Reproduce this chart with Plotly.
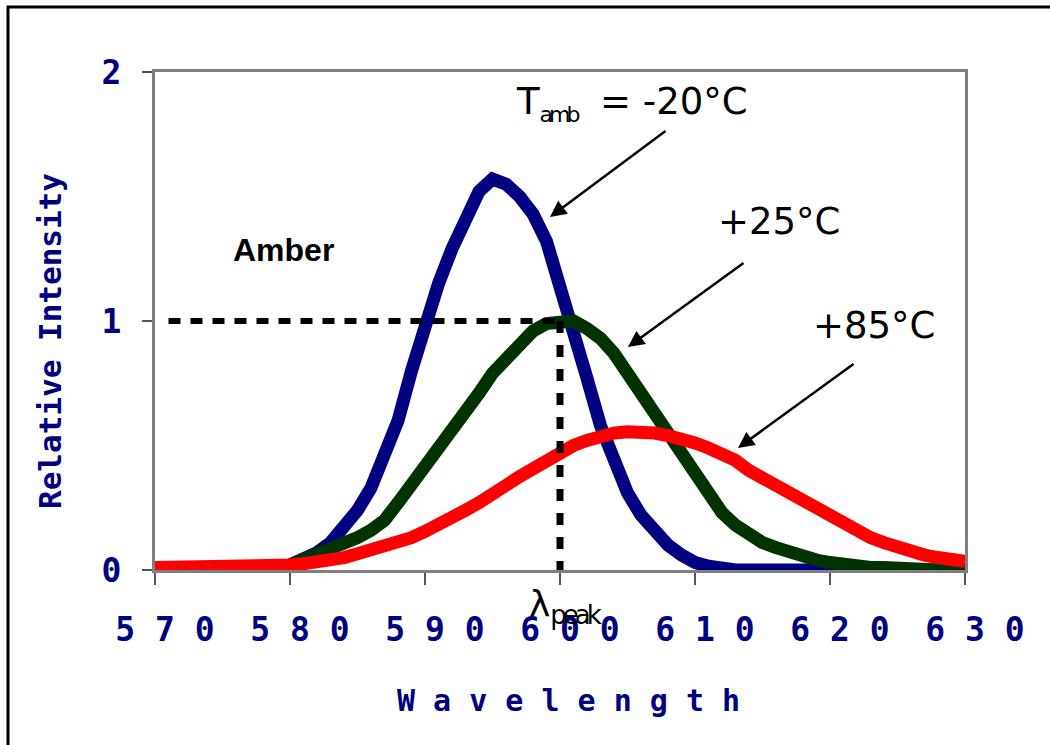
import plotly.graph_objects as go

# ---- data ----
wavelength = list(range(570, 631))
rel_m20 = [0.0, 0.0, 0.0, 0.0, 0.0, 0.0, 0.0, 0.0, 0.005, 0.01,
           0.02, 0.04, 0.07, 0.11, 0.17, 0.24, 0.33, 0.45, 0.60, 0.80,
           0.99, 1.15, 1.29, 1.42, 1.52, 1.57, 1.55, 1.50, 1.43, 1.32,
           1.15, 0.96, 0.77, 0.58, 0.43, 0.31, 0.22, 0.15, 0.10, 0.06,
           0.03, 0.015, 0.005, 0.0, 0.0, 0.0, 0.0, 0.0, 0.0, 0.0,
           0.0, 0.0, 0.0, 0.0, 0.0, 0.0, 0.0, 0.0, 0.0, 0.0, 0.0]
rel_p25 = [0.0, 0.0, 0.0, 0.0, 0.0, 0.0, 0.0, 0.0, 0.005, 0.01,
           0.02, 0.04, 0.06, 0.08, 0.10, 0.13, 0.16, 0.20, 0.27, 0.34,
           0.42, 0.49, 0.56, 0.64, 0.71, 0.79, 0.85, 0.91, 0.96, 0.99,
           1.0, 1.0, 0.97, 0.93, 0.87, 0.79, 0.71, 0.62, 0.54, 0.46,
           0.38, 0.30, 0.23, 0.18, 0.14, 0.11, 0.09, 0.07, 0.05, 0.04,
           0.03, 0.02, 0.015, 0.01, 0.01, 0.005, 0.0, 0.0, 0.0, 0.0, 0.0]
rel_p85 = [0.01, 0.01, 0.01, 0.01, 0.01, 0.01, 0.015, 0.02, 0.02, 0.02,
           0.02, 0.025, 0.03, 0.04, 0.05, 0.065, 0.08, 0.095, 0.11, 0.13,
           0.155, 0.18, 0.21, 0.24, 0.27, 0.30, 0.34, 0.375, 0.41, 0.44,
           0.47, 0.50, 0.52, 0.54, 0.55, 0.555, 0.555, 0.55, 0.54, 0.53,
           0.51, 0.49, 0.47, 0.44, 0.40, 0.37, 0.34, 0.31, 0.28, 0.25,
           0.21, 0.18, 0.155, 0.13, 0.11, 0.09, 0.07, 0.06, 0.05, 0.04, 0.035]

peak_wl = 600
peak_rel = 1.0
ref_start_wl = 571

x_tickvals = [570, 580, 590, 600, 610, 620, 630]
x_ticktext = ["5 7 0", "5 8 0", "5 9 0", "6 0 0", "6 1 0", "6 2 0", "6 3 0"]
y_tickvals = [0, 1, 2]
y_ticktext = ["0", "1", "2"]

NAVY = "#000080"
MONO = "DejaVu Sans Mono"
W, H = 1050, 745
L, R, T, B = 155, 85, 72, 175
PW, PH = W - L - R, H - T - B


def px(xp):
    return (xp - L) / PW


def py(yp):
    return (H - B - yp) / PH


fig = go.Figure()
for ys, col in [(rel_m20, "#000080"), (rel_p25, "#003300"), (rel_p85, "#ff0000")]:
    fig.add_trace(go.Scatter(x=wavelength, y=ys, mode="lines",
                             line=dict(color=col, width=13), showlegend=False))

# reference dashed lines
fig.add_trace(go.Scatter(x=[ref_start_wl, peak_wl], y=[peak_rel, peak_rel], mode="lines",
                         line=dict(color="black", width=6, dash="12px,10px"), showlegend=False))
fig.add_trace(go.Scatter(x=[peak_wl, peak_wl], y=[peak_rel, 0], mode="lines",
                         line=dict(color="black", width=7, dash="12px,12px"), showlegend=False))

nb = "\u00a0"
fig.update_xaxes(range=[570, 630], tickvals=x_tickvals,
                 ticktext=[nb + t.replace(" ", nb) for t in x_ticktext],
                 tickfont=dict(family=MONO, size=33, color=NAVY, weight="bold"),
                 showgrid=False, zeroline=False, showline=True, linecolor="#808080",
                 linewidth=3, mirror=True, ticks="outside", ticklen=12, tickwidth=2,
                 tickcolor="#555555", ticklabelstandoff=16)
fig.update_yaxes(range=[0, 2], tickvals=y_tickvals, ticktext=y_ticktext,
                 tickfont=dict(family=MONO, size=33, color=NAVY, weight="bold"),
                 showgrid=False, zeroline=False, showline=True, linecolor="#808080",
                 linewidth=3, mirror=True, ticks="outside", ticklen=10, tickwidth=2,
                 tickcolor="#555555", ticklabelstandoff=14)

ann = []
TXT = dict(family="DejaVu Sans", size=37, color="black")
SUB = "<span style='font-size:22px;letter-spacing:-4px'>{}</span>"
ann.append(dict(xref="paper", yref="paper", x=px(514), y=py(103), xanchor="left", yanchor="middle",
                text="T<sub>" + SUB.format("amb") + "</sub>" + nb * 2 + "= -20°C",
                showarrow=False, font=TXT))
ann.append(dict(xref="paper", yref="paper", x=px(779), y=py(222), xanchor="center", yanchor="middle",
                text="+25°C", showarrow=False, font=TXT))
ann.append(dict(xref="paper", yref="paper", x=px(874), y=py(325), xanchor="center", yanchor="middle",
                text="+85°C", showarrow=False, font=TXT))
ann.append(dict(xref="paper", yref="paper", x=px(283), y=py(250), xanchor="center", yanchor="middle",
                text="Amber", showarrow=False,
                font=dict(family="Liberation Sans", size=32, color="black", weight="bold")))
ann.append(dict(xref="paper", yref="paper", x=px(527), y=py(606), xanchor="left", yanchor="middle",
                text="λ<sub>" + "<span style='font-size:26px;letter-spacing:-4px'>peak</span>" + "</sub>",
                showarrow=False, font=dict(family="DejaVu Sans", size=36, color="black")))
# arrows (tail -> head, in pixels)
for (tx, ty, hx, hy) in [(667, 130, 550, 217), (745, 262, 628, 347), (855, 363, 738, 448)]:
    ann.append(dict(xref="paper", yref="paper", x=px(hx), y=py(hy), axref="pixel", ayref="pixel",
                    ax=tx - hx, ay=ty - hy, text="", showarrow=True, arrowhead=2, arrowsize=1.3,
                    arrowwidth=2.5, arrowcolor="black"))
# axis titles
ann.append(dict(xref="paper", yref="paper", x=px(50), y=py(341), xanchor="center", yanchor="middle",
                textangle=-90, text="Relative Intensity",
                showarrow=False, font=dict(family=MONO, size=31, color=NAVY, weight="bold")))
ann.append(dict(xref="paper", yref="paper", x=px(395), y=py(700), xanchor="left", yanchor="middle",
                text=nb.join("Wavelength"),
                showarrow=False, font=dict(family=MONO, size=30, color=NAVY, weight="bold")))

fig.update_layout(width=W, height=H, margin=dict(l=L, r=R, t=T, b=B),
                  paper_bgcolor="white", plot_bgcolor="white", annotations=ann,
                  shapes=[dict(type="rect", xref="paper", yref="paper",
                               x0=px(8), x1=px(1070), y0=py(770), y1=py(7),
                               line=dict(color="black", width=3), layer="below")])
fig.write_html("out.html")
